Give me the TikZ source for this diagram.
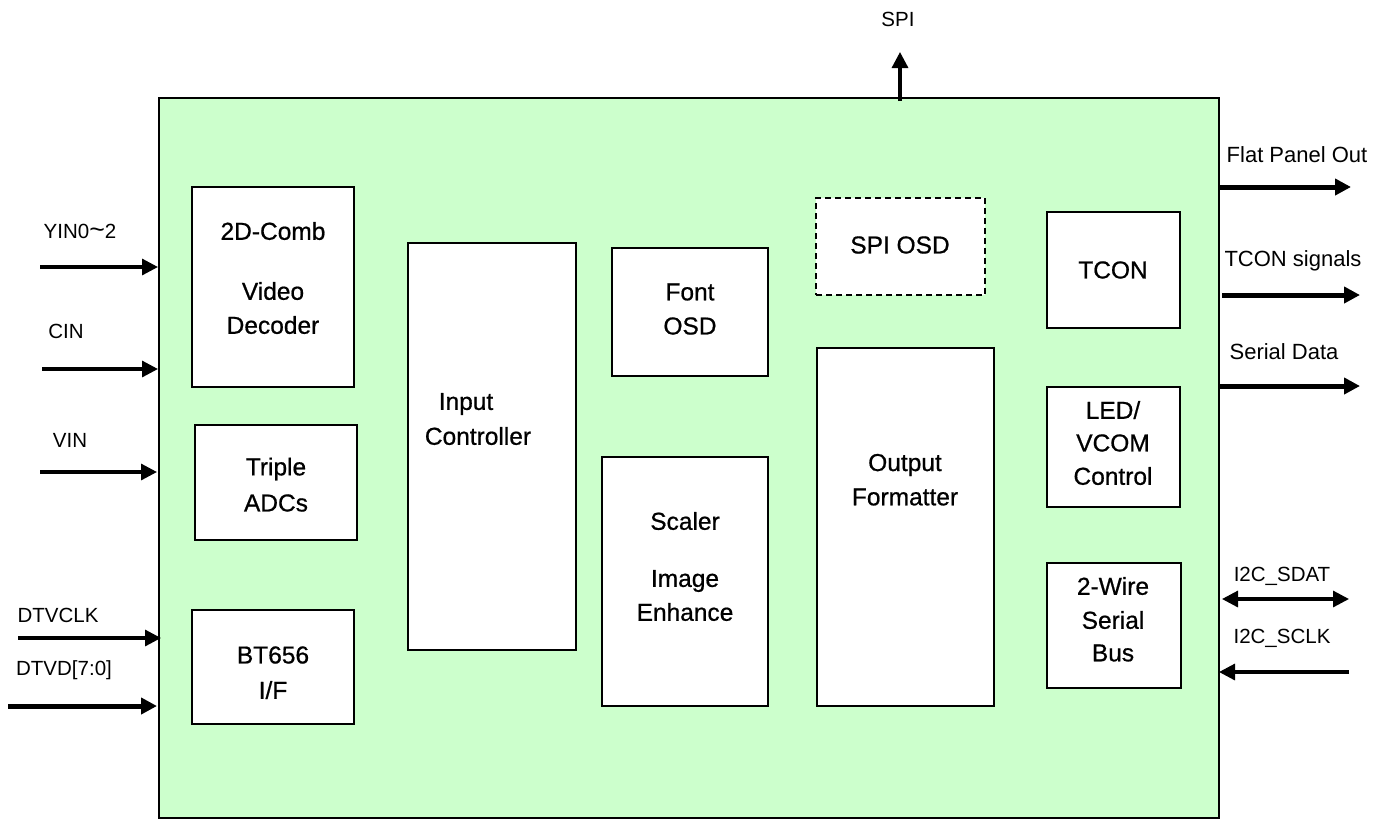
\documentclass[tikz,border=0pt]{standalone}
\usepackage{fontspec}
\setmainfont{Liberation Sans}
\newfontfamily\boxfont[FakeBold=0.7]{Liberation Sans}
\usetikzlibrary{arrows.meta}
\definecolor{chipgreen}{HTML}{CCFFCC}
\tikzset{
  blk/.style={draw=black, line width=2pt, fill=white, inner sep=0pt},
  lbl/.style={inner sep=0pt, font=\boxfont\fontsize{24.5}{28}\selectfont},
  pin/.style={inner sep=0pt, font=\fontsize{20.5}{24}\selectfont},
  pinb/.style={inner sep=0pt, font=\fontsize{22}{24}\selectfont},
  sig/.style={line width=3.2pt, -{Triangle[length=16pt,width=16pt]}},
  bus/.style={line width=5pt, -{Triangle[length=16pt,width=16pt]}},
  bsig/.style={line width=3.2pt, {Triangle[length=16pt,width=16pt]}-{Triangle[length=16pt,width=16pt]}},
}
\begin{document}
\begin{tikzpicture}[x=1pt,y=-1pt]
\useasboundingbox (0,0) rectangle (1384,820);
% main chip
\node[draw=black, line width=2pt, fill=chipgreen, minimum width=1060pt, minimum height=720pt, inner sep=0pt] (chip) at (689,458) {};
% blocks
\node[blk, minimum width=162pt, minimum height=200pt] (comb) at (273,287) {};
\node[blk, minimum width=162pt, minimum height=115pt] (adc) at (276,482.5) {};
\node[blk, minimum width=162pt, minimum height=114pt] (bt) at (273,667) {};
\node[blk, minimum width=168pt, minimum height=407pt] (inp) at (492,446.5) {};
\node[blk, minimum width=156pt, minimum height=128pt] (font) at (690,312) {};
\node[blk, minimum width=166pt, minimum height=249pt] (scal) at (685,581.5) {};
\node[blk, dashed, dash pattern=on 6pt off 4pt, minimum width=169pt, minimum height=97pt] (spiosd) at (900.5,246.5) {};
\node[blk, minimum width=177pt, minimum height=358pt] (outf) at (905.5,527) {};
\node[blk, minimum width=133pt, minimum height=116pt] (tcon) at (1113.5,270) {};
\node[blk, minimum width=133pt, minimum height=120pt] (led) at (1113.5,447) {};
\node[blk, minimum width=134pt, minimum height=125pt] (wire) at (1114,625.5) {};
% block labels
\node[lbl] (t1) at (273,231) {2D-Comb};
\node[lbl] (t2) at (273,291) {Video};
\node[lbl] (t3) at (273,325) {Decoder};
\node[lbl] (t4) at (276,469) {Triple};
\node[lbl] (t5) at (276,503) {ADCs};
\node[lbl] (t6) at (273,655) {BT656};
\node[lbl] (t7) at (273,690) {I/F};
\node[lbl] (t8) at (466,404) {Input};
\node[lbl] (t9) at (478,436) {Controller};
\node[lbl] (t10) at (690,292) {Font};
\node[lbl] (t11) at (690,326) {OSD};
\node[lbl] (t12) at (685,521) {Scaler};
\node[lbl] (t13) at (685,581) {Image};
\node[lbl] (t14) at (685,612) {Enhance};
\node[lbl] (t15) at (900,245) {SPI OSD};
\node[lbl] (t16) at (905,465) {Output};
\node[lbl] (t17) at (905,497) {Formatter};
\node[lbl] (t18) at (1113,270) {TCON};
\node[lbl] (t19) at (1113,410) {LED/};
\node[lbl] (t20) at (1113,443) {VCOM};
\node[lbl] (t21) at (1113,476) {Control};
\node[lbl] (t22) at (1113,586) {2-Wire};
\node[lbl] (t23) at (1113,620) {Serial};
\node[lbl] (t24) at (1113,653) {Bus};
% pin labels
\node[pin] (l1) at (80,231) {YIN0\scalebox{1.3}{\char"007E}2};
\node[pin] (l2) at (66,331) {CIN};
\node[pin] (l3) at (70,440) {VIN};
\node[pin] (l4) at (58,615) {DTVCLK};
\node[pin] (l5) at (64,670) {DTVD[7:0]};
\node[pin] (l6) at (898,19) {SPI};
\node[pinb] (l7) at (1297,155) {Flat Panel Out};
\node[pinb] (l8) at (1293,261) {TCON signals};
\node[pinb] (l9) at (1284,352) {Serial Data};
\node[pin] (l10) at (1282,576) {I2C\_SDAT};
\node[pin] (l11) at (1282,638) {I2C\_SCLK};
% connector end points
\coordinate (a1s) at (40,267);  \coordinate (a1e) at (158,267);
\coordinate (a2s) at (42,369);  \coordinate (a2e) at (158,369);
\coordinate (a3s) at (40,472);  \coordinate (a3e) at (157,472);
\coordinate (a4s) at (18,638);  \coordinate (a4e) at (161,638);
\coordinate (a5s) at (8,706);   \coordinate (a5e) at (157,706);
\coordinate (a6s) at (900,101); \coordinate (a6e) at (900,52);
\coordinate (a7s) at (1219,187); \coordinate (a7e) at (1351,187);
\coordinate (a8s) at (1222,295); \coordinate (a8e) at (1360,295);
\coordinate (a9s) at (1219,386); \coordinate (a9e) at (1360,386);
\coordinate (a10s) at (1222,599); \coordinate (a10e) at (1349,599);
\coordinate (a11s) at (1349,672); \coordinate (a11e) at (1219,672);
% connectors
\draw[sig] (a1s) -- (a1e);
\draw[sig] (a2s) -- (a2e);
\draw[sig] (a3s) -- (a3e);
\draw[sig] (a4s) -- (a4e);
\draw[bus] (a5s) -- (a5e);
\draw[sig] (a6s) -- (a6e);
\draw[bus] (a7s) -- (a7e);
\draw[bus] (a8s) -- (a8e);
\draw[bus] (a9s) -- (a9e);
\draw[bsig] (a10s) -- (a10e);
\draw[sig] (a11s) -- (a11e);
\end{tikzpicture}
\end{document}
